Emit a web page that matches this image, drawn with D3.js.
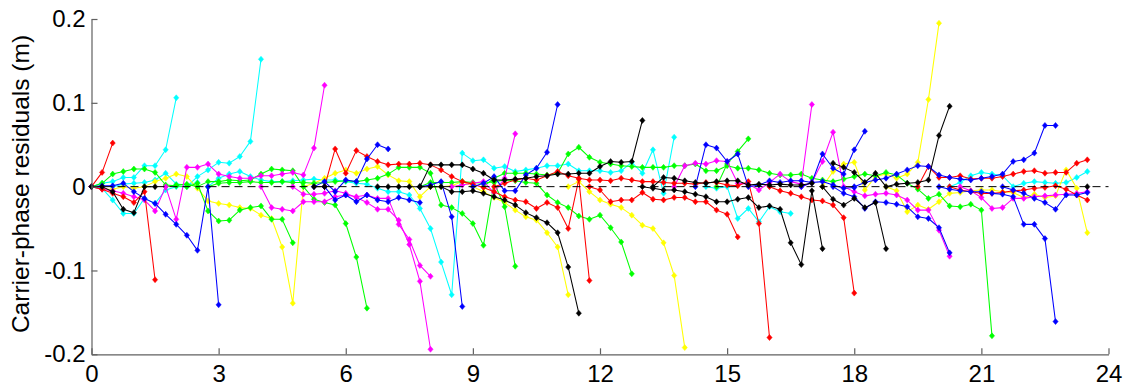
<!DOCTYPE html>
<html>
<head>
<meta charset="utf-8">
<script src="https://cdn.jsdelivr.net/npm/d3@7"></script>
<style>
  body { margin: 0; background: #fff; }
  svg { display: block; }
</style>
</head>
<body>
<svg id="chart" width="1132" height="389"></svg>
<script>
// Epoch spacing of the residual series, in hours
const epochStep = 0.25;

// Each arc: [start hour, residuals in millimetres at successive epochs]
const redArcs = [
  [0, [0, 17, 52]],
  [0, [0, -3, -8, -12, -19, -6, -111]],
  [5.5, [0, 45, 16, 43, 36, 30, 26, 27, 27, 28, 26, 20, 12, 6, 3, -1, -6, -12, -16, -18, -26, -19, -25, -50, 9, -112]],
  [11.75, [0, -4, -18, -16, -16, -7, -15, -16, -13, -13, -18, -18, -28, -33, -60]],
  [9.5, [0, 4, 8, 10, 8, 13, 18, 13, 10, 8, 8, 7, 10, 8, 6, 6, 5, 4, 4, 3, 5, 5, 2, 1, 6, -44, -180]],
  [16, [0, -5, -8, -12, -16, -17, -22, -37, -127]],
  [19.5, [0, 24, 11, 11, 13, 9, 10, 10, 12, 15, 18, 19, 16, 17, 17, 28, 32]],
  [20.25, [0, -4, -6, -8, -8, -7, -5, -4, -2, -1, 1, -3, -10, -16]]
];
const greenArcs = [
  [0, [0, 4, 15, 18, 21, 21, 17, 2, 1, 0, 4, -29, -41, -40, -28, -25, -23, -39, -39, -67]],
  [1.75, [0, 2, 3, 0, 6, 6, 8, 7, 8, 15, 21, 20, 19, 0, -15, -19, -22, -44, -84, -145]],
  [2.75, [0, 4, 5, 5, 6, 5, 5, 6, 5, 5, 4, 5, 6, 7, 6, 8, 10, 15, 23, 23, 23, 16, -22, -25, -32, -44, -70, 5, -24, -95]],
  [7.75, [0, 5, 5, 5, 6, 5, 4, 6, 8, 7, 5, 4, -10, -19, -25, -35, -39, -34, -49, -66, -104]],
  [9.25, [0, 10, 16, 16, 16, 15, 14, 16, 39, 47, 35, 29, 27, 25, 24, 23, 23, 23, 25, 25, 27, 19, 19, 25, 22, 22, 20, 16, 14, 14, 15, 10, 8, 6, 9, 12, 15, 13, 17, 14, 4, -3, -14, -9, -23, -24, -21, -28, -178]],
  [14.75, [0, 27, 42, 57]]
];
const blueArcs = [
  [0, [0, 1, 1, 4, -6, -14, -20, -33, -45, -58, -76, 0, -141]],
  [5.25, [0, 6, -6, 8, 6, 33, 50, 45]],
  [5.5, [0, -16, -10, -18, -10, -16, -18, -13, -16, -19]],
  [7.75, [0, 2, 6, -36, -143]],
  [9, [0, 4, 12, -5, -5, 14, 22, 41, 98]],
  [14.25, [0, 50, 46, 30, 39, 0, 2, 7, 5, 7, 7, 5, 6, 2, -2, -1]],
  [16.75, [0, 5, 39, 22, 15, 44, 66]],
  [17.5, [0, -8, -12, -26, -18, -19, -21, -24, -36, -38, -49, -79]],
  [18, [0, 5, 8, 10, 15, 20, 25, 24, 14, 11, 9, 8, 10, 12, 15, 30, 32, 40, 73, 73]],
  [20, [0, -3, -5, -6, -6, -8, -9, -12, -45, -45, -62, -161]],
  [21.5, [0, -4, -8, -14, -19, -27, -10, -10, -7]]
];
const cyanArcs = [
  [0, [0, -2, -16, -32, -32, -14, -20, -4, 0, 0, 12, 20, 29, 28, 36, 54, 152]],
  [0, [0, 4, 6, 11, 11, 25, 25, 44, 106]],
  [0.5, [0, 3, 4, 5, 8, 16, 3, 2, 5]],
  [2.75, [0, 10, 15, 18, 12, 8, 6, 6, 7, 8, 9, 8, 8, 6, 4, 3, -2, -6, -6, -10, -26, -50, -90, -129, 40, 31, 32, 22, 24, 18, 20, 22, 25, 25, 27, 19, 19, 19, 17, 19, 29, 16, 44, -8, 59]],
  [14.5, [0, -2, 0, -38, -26, -42, -24, -30, -32]],
  [20.25, [0, 5, 13, 17, 15, 13, 0, 4, 6, 5, 4, 5, 11, 18]]
];
const magentaArcs = [
  [0, [0, -3, -5, -8, -12, -16, -29, 0, -39, 23, 23, 27, 15, 12, 10, 10, 13, 13, 15, 17, 14, 46, 121]],
  [4, [0, -25, -27, -29, -18, -18, -18, -12, -10, -12, -10, -14, -14, -45, -63, -94, -107]],
  [4.75, [0, -9, -9, -8, -5, -8, -13, -19, -27, -27, -40, -69, -113, -194]],
  [8.5, [0, 2, 4, 6, -7, 10, 63]],
  [13.75, [0, 25, 28, 27, 31, 30, 4, 3, -4, 5, 15, 6, 3, 98]],
  [16.75, [0, 5, 30, 65, 0, -6, -11, -9, -8, -10, -16, -28, -28, -52, -83]],
  [20.5, [0, -5, -13, -26, -25, -14, -14, -12, -11, -10, -9, -8, -6]]
];
const yellowArcs = [
  [0, [0, -3, -3, 0, -2, 0, 6, 10, 15, 12, -2, -17, -20, -22, -25, -26, -34, -38, -72, -139,
       0, 4, 10, 16, 20, 16, 21, 24, 14, 7, 6, -12, 0, 0, 1, 6, 0, -6, -13, -19, -28, -36, -40, -55, -72, -129]],
  [11.25, [0, 6, -6, -16, -21, -25, -34, -46, -50, -67, -106, -192]],
  [17.25, [0, 18, 27, 29, -4, 12, 15, 10, 15, 29, 104, 195]],
  [18.75, [0, -5, -30, -22, -27, -18, -8, -7, -5, -4, -4, -6, -7, -13, -9, -13, -11, 20, -2, -55]]
];
const blackArcs = [
  [0, [0, 0, -6, -27, -31, 0, 0]],
  [5.25, [0, 0]],
  [6.75, [0, 0, 0, 0, 0, 0, 0, -6, -6, -5, -8, -12, -16, -22, -31, -37, -43, -55, -96, -151]],
  [7.75, [0, 26, 26, 26, 26, 21, 16, 8, 8, 9, 10, 12, 13, 15, 15, 16, 16, 24, 30, 29, 30, 79]],
  [13.25, [0, 11, 10, 7, 5, 4, 6, 7, 7, 2, 3, 2, 3, 2, 2, 4]],
  [13, [0, -2, -4, -4, -6, -9, -12, -18, -18, -15, -13, -25, -23, -27, -67, -93, -5, -74]],
  [17.5, [28, 23, 17, 5, 16, 0, 3, 4, 5, 8, 61, 96]],
  [17.25, [0, -15, -22, -14, -25, -19, -74]],
  [23.5, [0]]
];

const xTicks = [0, 3, 6, 9, 12, 15, 18, 21, 24];
const yTicks = [-0.2, -0.1, 0, 0.1, 0.2];
const yTickLabels = ["-0.2", "-0.1", "0", "0.1", "0.2"];
const yTitle = "Carrier-phase residuals (m)";

const seriesOrder = [
  ["#00ffff", cyanArcs],
  ["#ffff00", yellowArcs],
  ["#00ff00", greenArcs],
  ["#ff00ff", magentaArcs],
  ["#ff0000", redArcs],
  ["#0000ff", blueArcs],
  ["#000000", blackArcs]
];

const svg = d3.select("#chart");
const x = d3.scaleLinear().domain([0, 24]).range([91.5, 1108.5]);
const y = d3.scaleLinear().domain([-0.2, 0.2]).range([354.3, 19]);

svg.append("rect").attr("width", 1132).attr("height", 389).attr("fill", "#fff");

const line = d3.line().x(d => x(d[0])).y(d => y(d[1]));
const diamond = "M0,-3L2.6,0L0,3L-2.6,0Z";

const plot = svg.append("g");
seriesOrder.forEach(([color, arcs]) => {
  arcs.forEach(([start, vals]) => {
    const pts = vals.map((v, i) => [start + i * epochStep, v / 1000]);
    const g = plot.append("g");
    g.append("path")
      .attr("d", line(pts))
      .attr("fill", "none")
      .attr("stroke", color)
      .attr("stroke-width", 1.05)
      .attr("stroke-linejoin", "round");
    g.selectAll("path.m").data(pts).join("path")
      .attr("class", "m")
      .attr("d", diamond)
      .attr("transform", d => `translate(${x(d[0])},${y(d[1])})`)
      .attr("fill", color)
      .attr("stroke", color)
      .attr("stroke-width", 0.5);
  });
});

// zero reference
svg.append("line")
  .attr("x1", x(0)).attr("x2", x(24))
  .attr("y1", y(0)).attr("y2", y(0))
  .attr("stroke", "#000")
  .attr("stroke-width", 1)
  .attr("stroke-dasharray", "8,5");

const font = "'Liberation Sans', Arial, sans-serif";

const yAxis = d3.axisLeft(y)
  .tickValues(yTicks)
  .tickFormat((d, i) => yTickLabels[i])
  .tickSizeInner(-6).tickSizeOuter(0).tickPadding(6);
const xAxis = d3.axisBottom(x)
  .tickValues(xTicks)
  .tickFormat(d3.format("d"))
  .tickSizeInner(-6).tickSizeOuter(0).tickPadding(11);

const gy = svg.append("g").attr("transform", `translate(${x(0)},0)`).call(yAxis);
const gx = svg.append("g").attr("transform", `translate(0,${y(-0.2)})`).call(xAxis);
[gx, gy].forEach(g => {
  g.select(".domain").attr("stroke", "#606060").attr("stroke-width", 1.2);
  g.selectAll(".tick line").attr("stroke", "#606060").attr("stroke-width", 1.2);
  g.selectAll(".tick text").attr("fill", "#000").style("font-family", font).style("font-size", "24px");
});

svg.append("text")
  .attr("transform", "translate(29,184) rotate(-90)")
  .attr("text-anchor", "middle")
  .style("font-family", font)
  .style("font-size", "24.5px")
  .attr("fill", "#000")
  .text(yTitle);
</script>
</body>
</html>
